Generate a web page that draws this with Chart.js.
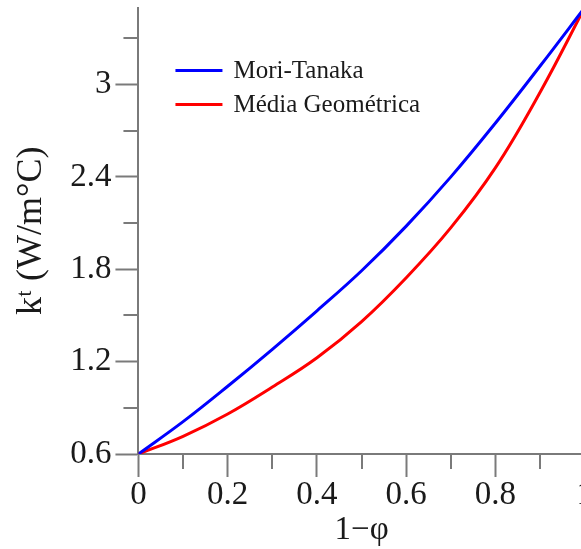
<!DOCTYPE html>
<html>
<head>
<meta charset="utf-8">
<script src="https://cdn.jsdelivr.net/npm/chart.js@4.4.1/dist/chart.umd.min.js"></script>
<style>
    html, body { margin: 0; padding: 0; background: #fff; overflow: hidden; }
    #wrap { position: relative; top: -13px; width: 595px; height: 562px; }
</style>
</head>
<body>
<div id="wrap"><canvas id="chart"></canvas></div>
<script>
// valores
const xValues = [0, 0.1, 0.2, 0.3, 0.4, 0.5, 0.6, 0.7, 0.8, 0.9, 1];
const moriTanaka = [0.6, 0.81, 1.04, 1.28, 1.53, 1.79, 2.08, 2.40, 2.75, 3.12, 3.50];
const mediaGeometrica = [0.6, 0.715, 0.86, 1.035, 1.225, 1.46, 1.745, 2.07, 2.46, 2.95, 3.50];

const xMajorTicks = [0, 0.2, 0.4, 0.6, 0.8, 1];
const xMinorTicks = [0.1, 0.3, 0.5, 0.7, 0.9];
const yMajorTicks = [0.6, 1.2, 1.8, 2.4, 3];
const yMinorTicks = [0.9, 1.5, 2.1, 2.7, 3.3];
const yMin = 0.6;
const yMax = 3.5;

const serif = "'Liberation Serif', 'Times New Roman', serif";
const axisGray = '#7a7a7a';
const textColor = '#1a1a1a';

const toPoints = (ys) => xValues.map((x, i) => ({ x: x, y: ys[i] }));

// ticks menores (mais curtos que os principais)
const minorTicks = {
    id: 'minorTicks',
    afterDraw(chart) {
        const { ctx, scales: { x, y } } = chart;
        ctx.save();
        ctx.strokeStyle = axisGray;
        ctx.lineWidth = 2;
        ctx.beginPath();
        xMinorTicks.forEach(v => {
            const px = Math.round(x.getPixelForValue(v));
            ctx.moveTo(px, x.top);
            ctx.lineTo(px, x.top + 15);
        });
        yMinorTicks.forEach(v => {
            const py = Math.round(y.getPixelForValue(v));
            ctx.moveTo(y.right - 15, py);
            ctx.lineTo(y.right, py);
        });
        ctx.stroke();
        ctx.restore();
    }
};

// legenda dentro da área do gráfico
const innerLegend = {
    id: 'innerLegend',
    afterDatasetsDraw(chart) {
        const { ctx, chartArea } = chart;
        ctx.save();
        ctx.font = `25px ${serif}`;
        ctx.textBaseline = 'middle';
        chart.data.datasets.forEach((ds, i) => {
            const yPos = chartArea.top + 63 + i * 34;
            ctx.strokeStyle = ds.borderColor;
            ctx.lineWidth = 3;
            ctx.beginPath();
            ctx.moveTo(chartArea.left + 37, yPos);
            ctx.lineTo(chartArea.left + 84, yPos);
            ctx.stroke();
            ctx.fillStyle = textColor;
            ctx.fillText(ds.label, chartArea.left + 95, yPos + 1);
        });
        ctx.restore();
    }
};

new Chart(document.getElementById('chart'), {
    type: 'line',
    data: {
        datasets: [
            {
                label: 'Mori-Tanaka',
                data: toPoints(moriTanaka),
                borderColor: '#0000ff',
                borderWidth: 3,
                pointRadius: 0,
                tension: 0.4,
                fill: false
            },
            {
                label: 'Média Geométrica',
                data: toPoints(mediaGeometrica),
                borderColor: '#ff0000',
                borderWidth: 3,
                pointRadius: 0,
                tension: 0.4,
                fill: false
            }
        ]
    },
    options: {
        responsive: true,
        maintainAspectRatio: false,
        animation: false,
        layout: { padding: { top: 0, left: 10, right: 0, bottom: 0 } },
        plugins: {
            legend: { display: false },
            tooltip: { enabled: false }
        },
        scales: {
            x: {
                type: 'linear',
                min: 0,
                max: 1,
                afterBuildTicks: (scale) => { scale.ticks = xMajorTicks.map(v => ({ value: v })); },
                border: { display: true, color: axisGray, width: 2 },
                grid: { drawOnChartArea: false, drawTicks: true, tickLength: 23, tickColor: axisGray, tickWidth: 2 },
                ticks: {
                    autoSkip: false,
                    maxRotation: 0,
                    padding: 2,
                    color: textColor,
                    font: { family: serif, size: 33, lineHeight: 1 },
                    callback: (v) => String(+Number(v).toFixed(1))
                },
                title: {
                    display: true,
                    text: '1−φ',
                    color: textColor,
                    font: { family: serif, size: 33, lineHeight: 1 },
                    padding: { top: 0, bottom: 2 }
                }
            },
            y: {
                type: 'linear',
                min: yMin,
                max: yMax,
                afterBuildTicks: (scale) => { scale.ticks = [...yMajorTicks, yMax].map(v => ({ value: v })); },
                border: { display: true, color: axisGray, width: 2 },
                grid: { drawOnChartArea: false, drawTicks: true, tickLength: 23, tickColor: axisGray, tickWidth: 2 },
                ticks: {
                    autoSkip: false,
                    padding: 4,
                    color: textColor,
                    font: { family: serif, size: 33, lineHeight: 1 },
                    callback: (v) => v === yMax ? null : String(+Number(v).toFixed(1))
                },
                title: {
                    display: true,
                    text: 'kᵗ (W/m°C)',
                    color: textColor,
                    font: { family: serif, size: 36, lineHeight: 1.2 },
                    padding: { top: 0, bottom: 13 }
                }
            }
        }
    },
    plugins: [minorTicks, innerLegend]
});
</script>
</body>
</html>
